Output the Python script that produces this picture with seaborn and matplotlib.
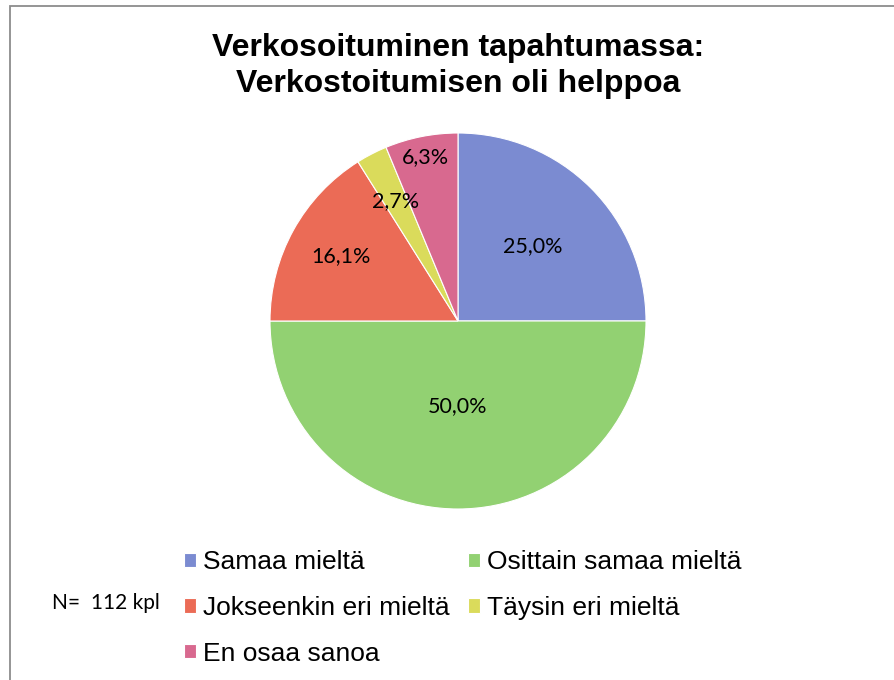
"""
plot.py - verkostoituminen pie chart
"""

import numpy as np
import pandas as pd
import seaborn as sns
import matplotlib.pyplot as plt
from matplotlib.patches import Rectangle


# Data
categories = ['Samaa mieltä', 'Osittain samaa mieltä', 'Jokseenkin eri mieltä',
              'Täysin eri mieltä', 'En osaa sanoa']
counts = [28, 56, 18, 3, 7]
colors = ['#7b8bd1', '#92d172', '#eb6b56', '#dadb5b', '#d8698f']
title = 'Verkosoituminen tapahtumassa:\nVerkostoitumisen oli helppoa'
note = 'N=  112 kpl'

# label distance from centre (fraction of radius), Excel "best fit"-ish
label_r = [0.56, 0.45, 0.71, 0.72, 0.89]

df = pd.DataFrame({'category': categories, 'count': counts})
df['share'] = 100 * df['count'] / df['count'].sum()

sns.set_theme(style='white')
plt.rcParams['font.family'] = ['Liberation Sans', 'DejaVu Sans']
plt.rcParams['text.color'] = 'black'

W, H = 894, 680
fig = plt.figure(figsize=(W / 100, H / 100), dpi=100)

# chart border (cropped on right and bottom)
fig.patches.append(Rectangle((9.5 / W, -0.1), 1.2, 1.1 - 6.5 / H,
                             transform=fig.transFigure, fill=False,
                             edgecolor='#8c8c8c', linewidth=1.3))

# pie axes: centre (458, 321), radius 188 px
cx, cy, r = 458, 321, 188
ax = fig.add_axes([(cx - r) / W, (H - cy - r) / H, 2 * r / W, 2 * r / H])
palette = sns.color_palette(colors)
wedges, _ = ax.pie(df['count'], colors=palette, startangle=90, counterclock=False,
                   radius=1, wedgeprops=dict(linewidth=0.8, edgecolor='white'))
ax.set_xlim(-1, 1)
ax.set_ylim(-1, 1)
ax.set_aspect('equal')
ax.axis('off')

for w, share, rr in zip(wedges, df['share'], label_r):
    theta = np.deg2rad((w.theta1 + w.theta2) / 2)
    # round half up like Excel (6.25 -> 6,3)
    val = np.floor(share * 10 + 0.5) / 10
    txt = f"{val:.1f}%".replace('.', ',')
    ax.text(rr * np.cos(theta), rr * np.sin(theta), txt, ha='center', va='center',
            fontsize=15.5, family=['Lato', 'DejaVu Sans'], color='black')

fig.text(cx / W, 1 - 66 / H, title, ha='center', va='center', fontsize=23,
         fontweight='bold', linespacing=1.3, color='black')

fig.text(52 / W, 1 - 603 / H, note, ha='left', va='center', fontsize=15,
         family=['Lato', 'DejaVu Sans'], color='black')

# legend, row-wise order in two columns
order = [0, 2, 4, 1, 3]
leg = fig.legend([wedges[i] for i in order], [categories[i] for i in order],
                 ncol=2, loc='upper left', bbox_to_anchor=(184 / W, 1 - 550 / H),
                 frameon=False, fontsize=19, handlelength=0.45, handleheight=0.45,
                 handletextpad=0.27, columnspacing=0.7, labelspacing=0.83,
                 borderpad=0, borderaxespad=0)
for t in leg.get_texts():
    t.set_color('black')

fig.savefig('out.png', dpi=100)
